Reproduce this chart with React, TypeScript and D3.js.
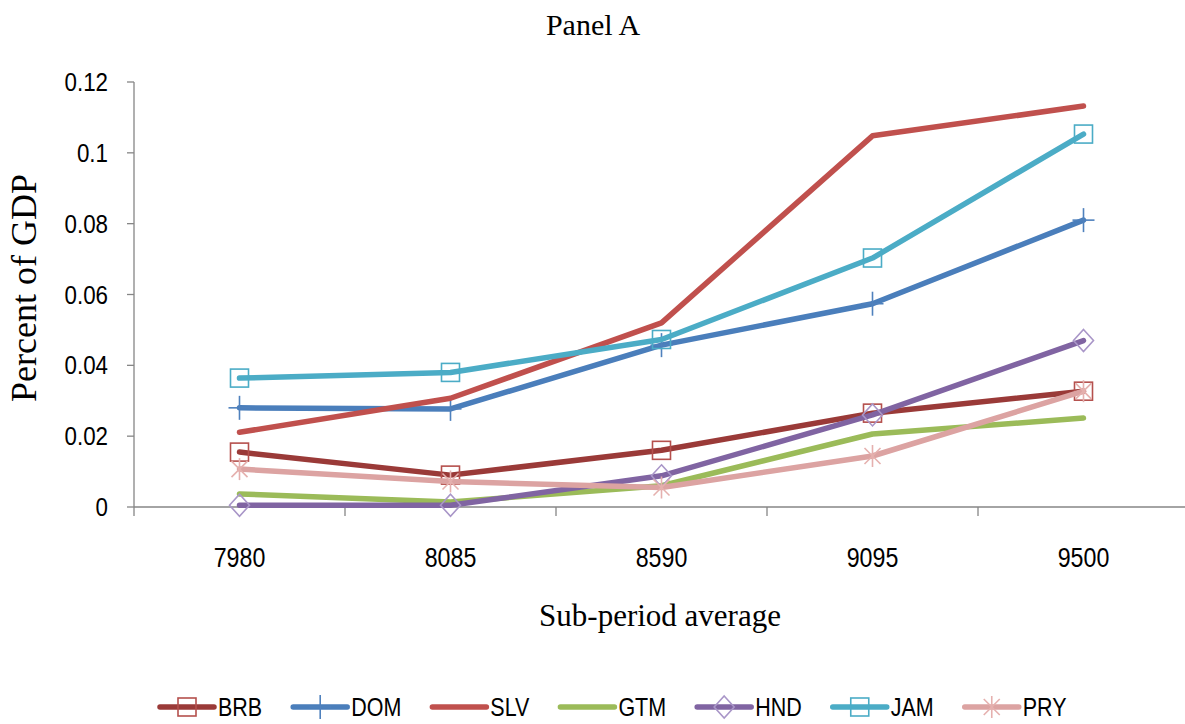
import React from "react";
import * as d3 from "d3";

const categories = ["7980", "8085", "8590", "9095", "9500"];
const seriesNames = ["BRB", "DOM", "SLV", "GTM", "HND", "JAM", "PRY"];
const BRB = [0.0155, 0.009, 0.016, 0.0265, 0.0327];
const DOM = [0.028, 0.0277, 0.0457, 0.0574, 0.081];
const SLV = [0.0211, 0.0307, 0.052, 0.1048, 0.1132];
const GTM = [0.0037, 0.0014, 0.006, 0.0206, 0.0251];
const HND = [0.0005, 0.0005, 0.0088, 0.026, 0.047];
const JAM = [0.0364, 0.038, 0.0473, 0.0703, 0.1053];
const PRY = [0.0107, 0.0072, 0.0055, 0.0144, 0.0327];
const yTicks = [0, 0.02, 0.04, 0.06, 0.08, 0.1, 0.12];

const seriesValues: Record<string, number[]> = { BRB, DOM, SLV, GTM, HND, JAM, PRY };
const lineColors: Record<string, string> = {
  BRB: "#9A3A38",
  DOM: "#4A7EBB",
  SLV: "#C0504D",
  GTM: "#9BBB59",
  HND: "#8064A2",
  JAM: "#4BACC6",
  PRY: "#DCA3A2",
};
const markerColors: Record<string, string> = {
  BRB: "#B5504D",
  DOM: "#4F81BD",
  SLV: "none",
  GTM: "none",
  HND: "#A996C8",
  JAM: "#4BACC6",
  PRY: "#E5B0AE",
};
const markerTypes: Record<string, string> = {
  BRB: "square",
  DOM: "plus",
  SLV: "none",
  GTM: "none",
  HND: "diamond",
  JAM: "square",
  PRY: "star",
};

const W = 1185;
const H = 724;
const left = 134;
const band = 211;
const top = 82;
const bottom = 507;
const sans = "'Liberation Sans', Arial, sans-serif";
const serif = "'Liberation Serif', 'Times New Roman', serif";
const sx = 0.86;

function Marker({ type, color, x, y }: { type: string; color: string; x: number; y: number }) {
  const sw = 1.6;
  if (type === "square") {
    const s = 18;
    return <rect x={x - s / 2} y={y - s / 2} width={s} height={s} fill="none" stroke={color} strokeWidth={sw} />;
  }
  if (type === "plus") {
    return (
      <g stroke={color} strokeWidth={sw}>
        <line x1={x - 11} x2={x + 11} y1={y} y2={y} />
        <line x1={x} x2={x} y1={y - 12} y2={y + 12} />
      </g>
    );
  }
  if (type === "diamond") {
    const w = 10, h = 11;
    return (
      <path
        d={`M${x},${y - h}L${x + w},${y}L${x},${y + h}L${x - w},${y}Z`}
        fill="none"
        stroke={color}
        strokeWidth={sw}
      />
    );
  }
  if (type === "star") {
    const r = 10;
    const d = 8;
    return (
      <g stroke={color} strokeWidth={sw}>
        <line x1={x} x2={x} y1={y - r - 1} y2={y + r + 1} />
        <line x1={x - d} x2={x + d} y1={y - d} y2={y + d} />
        <line x1={x - d} x2={x + d} y1={y + d} y2={y - d} />
      </g>
    );
  }
  return null;
}

function measure(text: string, font: string): number {
  if (typeof document === "undefined") return text.length * 14;
  const c = document.createElement("canvas");
  const ctx = c.getContext("2d");
  if (!ctx) return text.length * 14;
  ctx.font = font;
  return ctx.measureText(text).width;
}

export default function App() {
  const x = d3
    .scaleBand<string>()
    .domain(categories)
    .range([left, left + band * categories.length])
    .padding(0);
  const y = d3.scaleLinear().domain([0, 0.12]).range([bottom, top]);
  const cx = (c: string) => (x(c) as number) + x.bandwidth() / 2;

  const line = d3
    .line<number>()
    .x((_, i) => cx(categories[i]))
    .y((v) => y(v));

  const boundaries = d3.range(categories.length + 1).map((i) => left + i * x.bandwidth());

  // legend layout
  const legendY = 707;
  const lineLen = 54;
  const legendFontSize = 25;
  let lx = 160;
  const legendItems = seriesNames.map((name) => {
    const tw = measure(name, `${legendFontSize}px 'Liberation Sans', Arial, sans-serif`) * sx;
    const item = { name, x: lx, tx: lx + lineLen + 4 };
    lx = item.tx + tw + 31;
    return item;
  });

  return (
    <svg
      width={W}
      height={H}
      style={{ position: "absolute", left: 0, top: 0, background: "#fff" }}
    >
      <rect x={0} y={0} width={W} height={H} fill="#fff" />
      {/* title */}
      <text x={593} y={35} textAnchor="middle" fontFamily={serif} fontSize={30} fill="#000">
        Panel A
      </text>

      {/* y axis */}
      <line x1={left} x2={left} y1={top} y2={bottom} stroke="#868686" strokeWidth={1.3} />
      {yTicks.map((t) => (
        <g key={t}>
          <line x1={left - 7} x2={left} y1={y(t)} y2={y(t)} stroke="#868686" strokeWidth={1.3} />
          <text
            transform={`translate(108,${y(t) + 9}) scale(${sx},1)`}
            textAnchor="end"
            fontFamily={sans}
            fontSize={26}
            fill="#000"
          >
            {String(+t.toFixed(2))}
          </text>
        </g>
      ))}

      {/* x axis */}
      <line x1={left} x2={W} y1={bottom} y2={bottom} stroke="#868686" strokeWidth={1.3} />
      {boundaries.map((b, i) => (
        <line key={i} x1={b} x2={b} y1={bottom} y2={bottom + 9} stroke="#868686" strokeWidth={1.3} />
      ))}
      {categories.map((c) => (
        <text
          key={c}
          transform={`translate(${cx(c)},567) scale(${sx},1)`}
          textAnchor="middle"
          fontFamily={sans}
          fontSize={27}
          fill="#000"
        >
          {c}
        </text>
      ))}

      {/* axis titles */}
      <text x={660} y={626} textAnchor="middle" fontFamily={serif} fontSize={31} fill="#000">
        Sub-period average
      </text>
      <text
        transform="translate(36,288) rotate(-90)"
        textAnchor="middle"
        fontFamily={serif}
        fontSize={36}
        fill="#000"
      >
        Percent of GDP
      </text>

      {/* series */}
      {seriesNames.map((name) => {
        const vals = seriesValues[name];
        return (
          <g key={name}>
            <path
              d={line(vals) || ""}
              fill="none"
              stroke={lineColors[name]}
              strokeWidth={5.5}
              strokeLinejoin="round"
              strokeLinecap="round"
            />
            {vals.map((v, i) => (
              <Marker
                key={i}
                type={markerTypes[name]}
                color={markerColors[name]}
                x={cx(categories[i])}
                y={y(v)}
              />
            ))}
          </g>
        );
      })}

      {/* legend */}
      {legendItems.map((it) => (
        <g key={it.name}>
          <line
            x1={it.x}
            x2={it.x + lineLen}
            y1={legendY}
            y2={legendY}
            stroke={lineColors[it.name]}
            strokeWidth={5.5}
            strokeLinecap="round"
          />
          <Marker
            type={markerTypes[it.name]}
            color={markerColors[it.name]}
            x={it.x + lineLen / 2}
            y={legendY}
          />
          <text
            transform={`translate(${it.tx},${legendY + 9}) scale(${sx},1)`}
            fontFamily={sans}
            fontSize={legendFontSize}
            fill="#000"
          >
            {it.name}
          </text>
        </g>
      ))}
    </svg>
  );
}
